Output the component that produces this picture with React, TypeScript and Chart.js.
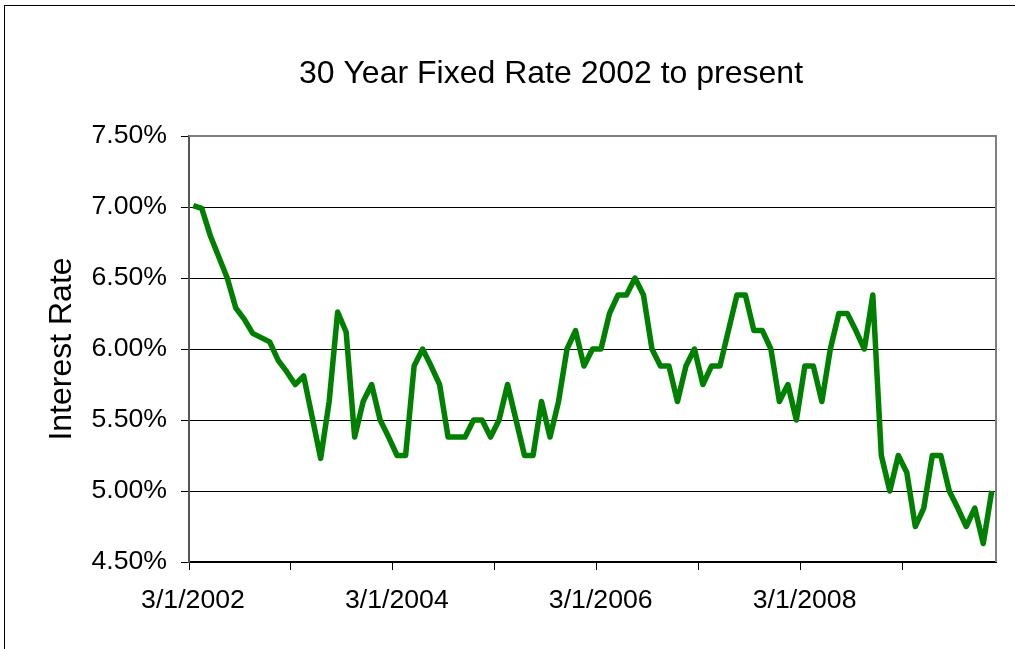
import React, { useEffect, useRef } from 'react';
import { Chart, registerables } from 'chart.js';

Chart.register(...registerables);

// Monthly 30-year fixed rate (%), March 2002 .. January 2010
const rates: number[] = [
  7.01, 6.99, 6.80, 6.65, 6.50, 6.29, 6.21, 6.11, 6.08, 6.05, 5.92, 5.84,
  5.75, 5.81, 5.52, 5.23, 5.63, 6.26, 6.12, 5.38, 5.63, 5.75, 5.50, 5.38,
  5.25, 5.25, 5.88, 6.00, 5.88, 5.75, 5.38, 5.38, 5.38, 5.50, 5.50, 5.38,
  5.50, 5.75, 5.50, 5.25, 5.25, 5.63, 5.38, 5.63, 6.00, 6.13, 5.88, 6.00,
  6.00, 6.25, 6.38, 6.38, 6.50, 6.38, 6.00, 5.88, 5.88, 5.63, 5.88, 6.00,
  5.75, 5.88, 5.88, 6.13, 6.38, 6.38, 6.13, 6.13, 6.00, 5.63, 5.75, 5.50,
  5.88, 5.88, 5.63, 6.00, 6.25, 6.25, 6.13, 6.00, 6.38, 5.25, 5.00, 5.25,
  5.13, 4.75, 4.88, 5.25, 5.25, 5.00, 4.88, 4.75, 4.88, 4.63, 5.00,
];

const startYear = 2002;
const startMonth = 3;
const monthLabels: string[] = rates.map((_, i) => {
  const m = ((startMonth - 1 + i) % 12) + 1;
  const y = startYear + Math.floor((startMonth - 1 + i) / 12);
  return `${m}/15/${y}`;
});

// Yearly tick marks (3/1 of each year), labels every other year
const xTickLabels: string[] = ['3/1/2002', '', '3/1/2004', '', '3/1/2006', '', '3/1/2008', ''];
const yMin = 4.5;
const yMax = 7.5;
const yStep = 0.5;

const titleText = '30 Year Fixed Rate 2002 to present';
const yTitleText = 'Interest Rate';

export default function App() {
  const ref = useRef<HTMLCanvasElement>(null);

  useEffect(() => {
    if (!ref.current) return;
    Chart.defaults.font.family = 'Arial, "Liberation Sans", sans-serif';
    const frame = {
      id: 'plotFrame',
      beforeDatasetsDraw(chart: any) {
        const { ctx, chartArea } = chart;
        const { left, top, right, bottom } = chartArea;
        ctx.save();
        ctx.strokeStyle = '#808080';
        ctx.lineWidth = 2;
        ctx.beginPath();
        ctx.moveTo(left, top);
        ctx.lineTo(right, top);
        ctx.lineTo(right, bottom);
        ctx.stroke();
        ctx.restore();
      },
    };

    const chart = new Chart(ref.current, {
      type: 'line',
      data: {
        labels: monthLabels,
        datasets: [
          {
            label: 'Rate',
            data: rates.map((r, i) => ({ x: i + 0.5, y: r })),
            borderColor: '#008000',
            backgroundColor: '#008000',
            borderWidth: 5.5,
            pointRadius: 0,
            tension: 0,
            borderJoinStyle: 'round',
            borderCapStyle: 'butt',
            fill: false,
            yAxisID: 'y',
          },
        ],
      },
      options: {
        animation: false,
        responsive: false,
        devicePixelRatio: 1,
        layout: { padding: { left: 0, right: 0, top: 0, bottom: 0 } },
        plugins: {
          legend: { display: false },
          tooltip: { enabled: false },
          title: {
            display: true,
            text: titleText,
            color: '#000',
            font: { size: 32, weight: 'normal' },
            padding: { top: 54.8, bottom: 42.8 },
          },
        },
        scales: {
          x: {
            type: 'linear',
            position: 'bottom',
            min: 0,
            max: 95,
            afterFit(s: any) {
              s.height = 87;
            },
            ticks: {
              stepSize: 12,
              includeBounds: false,
              autoSkip: false,
              maxRotation: 0,
              labelOffset: 4,
              padding: 15,
              color: '#000',
              font: { size: 26.67 },
              callback: (v: any) => xTickLabels[Math.round(Number(v) / 12)] ?? '',
            },
            grid: {
              drawOnChartArea: false,
              drawTicks: true,
              tickLength: 8,
              tickColor: '#000',
              tickWidth: 1,
            },
            border: { color: '#000', width: 2 },
          },
          y: {
            type: 'linear',
            position: 'left',
            min: yMin,
            max: yMax,
            afterFit(s: any) {
              s.width = 189;
            },
            ticks: {
              stepSize: yStep,
              padding: 14,
              color: '#000',
              font: { size: 26.67 },
              callback: (v: any) => Number(v).toFixed(2) + '%',
            },
            grid: {
              color: (c: any) =>
                c.tick && (Math.abs(c.tick.value - yMax) < 1e-6 || Math.abs(c.tick.value - yMin) < 1e-6)
                  ? 'rgba(0,0,0,0)'
                  : '#000',
              lineWidth: 1,
              tickColor: '#000',
              tickLength: 8,
            },
            border: { color: '#555', width: 2 },
            title: {
              display: true,
              text: yTitleText,
              color: '#000',
              font: { size: 32, weight: 'normal' },
              padding: { top: 42.8, bottom: 0 },
            },
          },
          yRightSpace: {
            type: 'linear',
            position: 'right',
            min: yMin,
            max: yMax,
            afterFit(s: any) {
              s.width = 106;
            },
            ticks: { display: false },
            grid: { display: false, drawOnChartArea: false },
            border: { display: false },
          },
        },
      },
      plugins: [frame],
    } as any);

    return () => chart.destroy();
  }, []);

  return (
    <div
      style={{
        position: 'fixed',
        left: 0,
        top: 0,
        width: '100vw',
        height: '100vh',
        overflow: 'hidden',
        background: '#fff',
      }}
    >
      <div
        style={{
          position: 'absolute',
          left: 4,
          top: 5,
          width: 1150,
          height: 700,
          border: '1px solid #000',
          boxSizing: 'border-box',
        }}
      />
      <canvas
        ref={ref}
        width={1102}
        height={649}
        style={{ position: 'absolute', left: 0, top: 0, width: 1102, height: 649 }}
      />
    </div>
  );
}
